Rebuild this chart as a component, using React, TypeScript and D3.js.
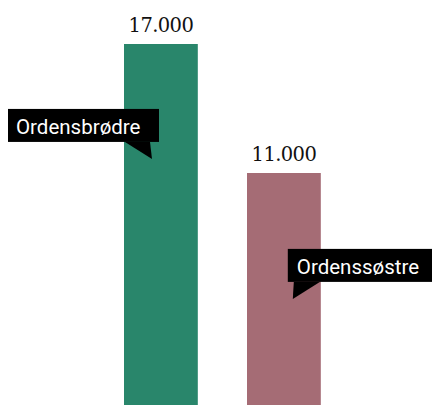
import * as d3 from "d3";

const categories = ["Ordensbrødre", "Ordenssøstre"];
const values = [17000, 11000];
const colors = ["#29866b", "#a56c75"];
// callout label placement: which side of the bar the tag sits on
const calloutSide = ["left", "right"];
const calloutValue = [13980, 7470];

const nb = d3.formatLocale({ decimal: ",", thousands: ".", grouping: [3], currency: ["", " kr"] });
const fmt = nb.format(",");

export default function App() {
  const width = 432;
  const height = 405;

  const x = d3.scaleBand<string>().domain(categories).range([124, 320.8]).paddingInner(0.4).paddingOuter(0);
  const y = d3.scaleLinear().domain([0, 17000]).range([409.5, 44]);

  return (
    <svg
      width={width}
      height={height}
      viewBox={`0 0 ${width} ${height}`}
      style={{ position: "absolute", left: 0, top: 0, background: "#fff" }}
    >
      {categories.map((cat, i) => {
        const bx = x(cat) ?? 0;
        const bw = x.bandwidth();
        return (
          <g key={cat}>
            <rect x={bx} y={y(values[i])} width={bw} height={y(0) - y(values[i])} fill={colors[i]} />
            <text
              x={bx + bw / 2}
              y={y(values[i]) - 12.5}
              textAnchor="middle"
              fontFamily="'DejaVu Serif', serif"
              fontSize="19.5"
              letterSpacing="-0.6"
              fill="#111"
            >
              {fmt(values[i])}
            </text>
          </g>
        );
      })}
      {categories.map((cat, i) => {
        const bx = x(cat) ?? 0;
        const bw = x.bandwidth();
        const boxH = 33;
        const boxW = 151;
        const top = y(calloutValue[i]);
        if (calloutSide[i] === "left") {
          const right = bx + 35;
          const left = right - boxW;
          const bottom = top + boxH;
          return (
            <g key={`c-${cat}`}>
              <rect x={left} y={top} width={boxW} height={boxH} fill="#000" />
              <path d={`M${bx + 1},${bottom} L${bx + 26},${bottom} L${bx + 28},${bottom + 17} Z`} fill="#000" />
              <text x={left + 8} y={top + 25} fontFamily="Roboto, sans-serif" fontSize="20.5" fill="#fff">
                {cat}
              </text>
            </g>
          );
        }
        const left = bx + bw - 33;
        const bottom = top + boxH;
        return (
          <g key={`c-${cat}`}>
            <rect x={left} y={top} width={boxW} height={boxH} fill="#000" />
            <path d={`M${left + 6},${bottom} L${left + 32},${bottom} L${left + 5},${bottom + 17} Z`} fill="#000" />
            <text x={left + 9} y={top + 25} fontFamily="Roboto, sans-serif" fontSize="20.5" fill="#fff">
              {cat}
            </text>
          </g>
        );
      })}
    </svg>
  );
}
